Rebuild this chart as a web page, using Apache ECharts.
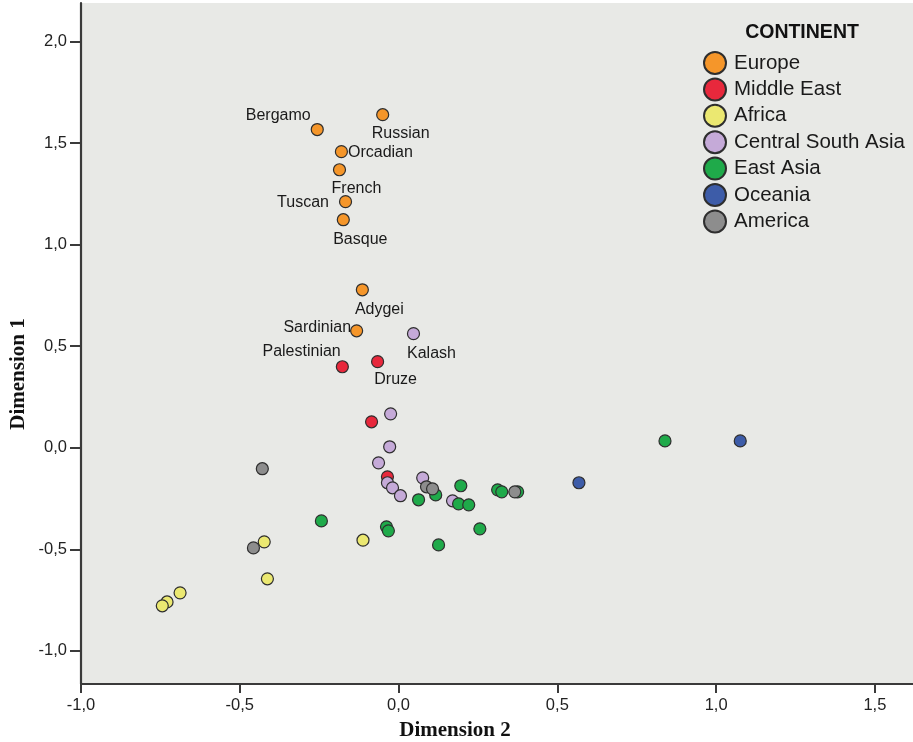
<!DOCTYPE html>
<html>
<head>
<meta charset="utf-8">
<script src="https://cdn.jsdelivr.net/npm/echarts@6/dist/echarts.min.js"></script>
<style>
  html, body { margin: 0; padding: 0; background: #ffffff; }
  #chart { width: 913px; height: 742px; }
</style>
</head>
<body>
<div id="chart"></div>
<script>
// ---- Data (Dimension 2 = x, Dimension 1 = y) ----
const europeX = [-0.050, -0.256, -0.180, -0.186, -0.167, -0.174, -0.114, -0.132];
const europeY = [1.640, 1.567, 1.458, 1.369, 1.212, 1.123, 0.778, 0.576];
const europeNames = ['Russian', 'Bergamo', 'Orcadian', 'French', 'Tuscan', 'Basque', 'Adygei', 'Sardinian'];

const middleEastX = [-0.177, -0.066, -0.085, -0.035];
const middleEastY = [0.399, 0.424, 0.128, -0.143];
const middleEastNames = ['Palestinian', 'Druze', '', ''];

const africaX = [-0.112, -0.423, -0.413, -0.688, -0.729, -0.744];
const africaY = [-0.455, -0.463, -0.645, -0.714, -0.759, -0.778];

const csaX = [0.047, -0.025, -0.028, -0.063, -0.035, -0.019, 0.006, 0.076, 0.170];
const csaY = [0.562, 0.167, 0.005, -0.074, -0.172, -0.197, -0.236, -0.148, -0.261];
const csaNames = ['Kalash', '', '', '', '', '', '', '', ''];

const eastAsiaX = [0.839, -0.243, 0.117, 0.063, 0.196, 0.189, 0.221, 0.312, 0.325, 0.375, -0.038, -0.032, 0.256, 0.126];
const eastAsiaY = [0.034, -0.360, -0.232, -0.256, -0.187, -0.276, -0.281, -0.207, -0.217, -0.217, -0.389, -0.409, -0.399, -0.478];

const oceaniaX = [0.568, 1.076];
const oceaniaY = [-0.172, 0.034];

const americaX = [-0.429, -0.457, 0.088, 0.107, 0.366];
const americaY = [-0.103, -0.493, -0.192, -0.202, -0.217];

const continents = ['Europe', 'Middle East', 'Africa', 'Central South Asia', 'East Asia', 'Oceania', 'America'];
const xTicks = [-1.0, -0.5, 0.0, 0.5, 1.0, 1.5];
const yTicks = [-1.0, -0.5, 0.0, 0.5, 1.0, 1.5, 2.0];

// ---- Styling ----
const colors = ['#f5962a', '#e8283c', '#ebe871', '#c5aad8', '#1faa4a', '#3d5ca8', '#8d8d8d'];
const labelPlacement = {
  Bergamo:     { position: 'left',   distance: 0, offset: [0, -14] },
  Russian:     { position: 'bottom', distance: 5, offset: [18, -1] },
  Orcadian:    { position: 'right',  distance: 0, offset: [0, 1] },
  French:      { position: 'bottom', distance: 5, offset: [17, -1] },
  Tuscan:      { position: 'left',   distance: 5, offset: [-5, 1] },
  Basque:      { position: 'bottom', distance: 5, offset: [17, 0] },
  Adygei:      { position: 'bottom', distance: 5, offset: [17, 0] },
  Sardinian:   { position: 'left',   distance: 5, offset: [6, -3] },
  Kalash:      { position: 'bottom', distance: 5, offset: [18, 0] },
  Palestinian: { position: 'left',   distance: 5, offset: [10, -15] },
  Druze:       { position: 'bottom', distance: 5, offset: [18, -2] }
};

function buildData(xs, ys, names) {
  return xs.map(function (x, i) {
    const name = names ? names[i] : '';
    const item = { value: [x, ys[i]] };
    if (name) {
      const p = labelPlacement[name];
      item.name = name;
      item.label = {
        show: true, formatter: name,
        position: p.position, distance: p.distance, offset: p.offset,
        color: '#1a1a1a', fontFamily: 'Liberation Sans', fontSize: 16, lineHeight: 16
      };
    }
    return item;
  });
}

const seriesData = [
  buildData(europeX, europeY, europeNames),
  buildData(middleEastX, middleEastY, middleEastNames),
  buildData(africaX, africaY),
  buildData(csaX, csaY, csaNames),
  buildData(eastAsiaX, eastAsiaY),
  buildData(oceaniaX, oceaniaY),
  buildData(americaX, americaY)
];

const fmt = function (v) { return v.toFixed(1).replace('.', ','); };

const chart = echarts.init(document.getElementById('chart'), null, { renderer: 'canvas' });
chart.setOption({
  animation: false,
  backgroundColor: '#ffffff',
  grid: {
    left: 81, right: 0, top: 3, bottom: 58,
    show: true, backgroundColor: '#e8e9e6', borderWidth: 0
  },
  xAxis: {
    type: 'value', min: -1.0, max: 1.62,
    splitLine: { show: false },
    axisLine: { show: true, onZero: false, lineStyle: { color: '#3a3a3a', width: 2.2 } },
    axisTick: { show: true, customValues: xTicks, length: 9, lineStyle: { color: '#3a3a3a', width: 2 } },
    axisLabel: {
      customValues: xTicks, formatter: fmt, margin: 13,
      color: '#222', fontFamily: 'Liberation Sans', fontSize: 16.5
    }
  },
  yAxis: {
    type: 'value', min: -1.163, max: 2.19,
    splitLine: { show: false },
    axisLine: { show: true, onZero: false, lineStyle: { color: '#3a3a3a', width: 2.2 } },
    axisTick: { show: true, customValues: yTicks, length: 11, lineStyle: { color: '#3a3a3a', width: 2 } },
    axisLabel: {
      customValues: yTicks, formatter: fmt, margin: 14,
      color: '#222', fontFamily: 'Liberation Sans', fontSize: 16.5
    }
  },
  legend: {
    data: continents,
    orient: 'vertical',
    left: 698, top: 46,
    padding: 5,
    icon: 'circle',
    itemWidth: 22, itemHeight: 22, itemGap: 2.4,
    textStyle: { color: '#1a1a1a', fontFamily: 'Liberation Sans', fontSize: 20.5, lineHeight: 22, padding: [0, 0, 0, 3] }
  },
  graphic: [
    {
      type: 'text', x: 802, y: 33, style: {
        text: 'CONTINENT', x: 0, y: 0, align: 'center', verticalAlign: 'middle',
        fill: '#111', font: 'bold 19.5px "Liberation Sans"'
      }
    },
    {
      type: 'text', x: 19, y: 374, rotation: Math.PI / 2, style: {
        text: 'Dimension 1', x: 0, y: 0, align: 'center', verticalAlign: 'middle',
        fill: '#111', font: 'bold 21px "Liberation Serif"'
      }
    },
    {
      type: 'text', x: 455, y: 731, style: {
        text: 'Dimension 2', x: 0, y: 0, align: 'center', verticalAlign: 'middle',
        fill: '#111', font: 'bold 21px "Liberation Serif"'
      }
    }
  ],
  series: continents.map(function (c, i) {
    return {
      name: c,
      type: 'scatter',
      symbol: 'circle',
      symbolSize: 12,
      itemStyle: { color: colors[i], borderColor: '#2e2e2e', borderWidth: 1.2, opacity: 1 },
      emphasis: { disabled: true },
      data: seriesData[i]
    };
  })
});
</script>
</body>
</html>
